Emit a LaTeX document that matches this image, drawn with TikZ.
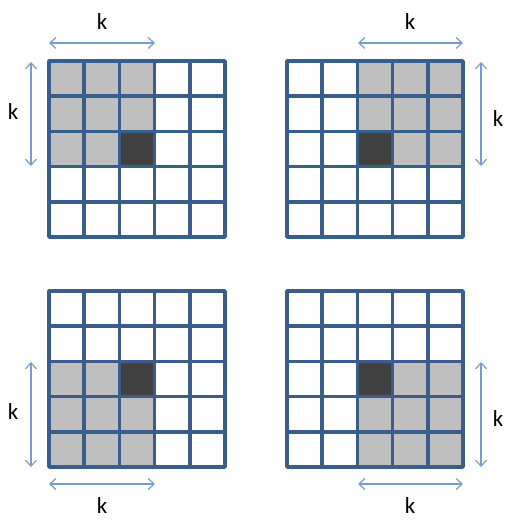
\documentclass[tikz,border=0pt]{standalone}
\usepackage{fontspec}
\setmainfont{Carlito}
\usetikzlibrary{arrows.meta}
\definecolor{gridblue}{RGB}{58,94,140}
\definecolor{arrowblue}{RGB}{120,156,206}
\definecolor{cellgray}{RGB}{191,191,191}
\definecolor{celldark}{RGB}{64,64,64}
\tikzset{
  gridline/.style={draw=gridblue,line width=3.5pt,line join=round,line cap=round},
  dimarrow/.style={draw=arrowblue,line width=1.2pt,{Straight Barb[length=6pt,width=11pt]}-{Straight Barb[length=6pt,width=11pt]}},
  klabel/.style={font=\fontsize{23}{26}\selectfont,inner sep=0pt,text=black}
}
\newcommand\drawgrid[4]{% x0, y0, gray col start, gray row start
  \begin{scope}[shift={(#1,#2)}]
    \foreach \i in {0,1,2}{\foreach \j in {0,1,2}{
      \fill[cellgray] ({(#3+\i)*35.2},{(#4+\j)*35.2}) rectangle ++(35.2,35.2);}}
    \fill[celldark] (70.4,70.4) rectangle ++(35.2,35.2);
    \foreach \t in {1,2,3,4}{
      \draw[gridline] ({\t*35.2},0) -- ({\t*35.2},176);
      \draw[gridline] (0,{\t*35.2}) -- (176,{\t*35.2});}
    \draw[gridline] (0,0) rectangle (176,176);
  \end{scope}}
\begin{document}
\begin{tikzpicture}[x=1pt,y=-1pt]
\useasboundingbox (0,0) rectangle (511,524);
\drawgrid{49}{61}{0}{0}
\drawgrid{287}{61}{2}{0}
\drawgrid{49}{291}{0}{2}
\drawgrid{287}{291}{2}{2}
% top-left
\coordinate (a1) at (49,43); \coordinate (a2) at (155,43);
\draw[dimarrow] (a1) -- (a2);
\node[klabel] (k1) at (102,22) {k};
\coordinate (b1) at (31,62); \coordinate (b2) at (31,166);
\draw[dimarrow] (b1) -- (b2);
\node[klabel] (k2) at (13,112) {k};
% top-right
\coordinate (c1) at (358,43); \coordinate (c2) at (463,43);
\draw[dimarrow] (c1) -- (c2);
\node[klabel] (k3) at (410,22) {k};
\coordinate (d1) at (481,62); \coordinate (d2) at (481,166);
\draw[dimarrow] (d1) -- (d2);
\node[klabel] (k4) at (498,119) {k};
% bottom-left
\coordinate (e1) at (31,362); \coordinate (e2) at (31,467);
\draw[dimarrow] (e1) -- (e2);
\node[klabel] (k5) at (13,412) {k};
\coordinate (f1) at (49,484); \coordinate (f2) at (155,484);
\draw[dimarrow] (f1) -- (f2);
\node[klabel] (k6) at (102,506) {k};
% bottom-right
\coordinate (g1) at (481,362); \coordinate (g2) at (481,467);
\draw[dimarrow] (g1) -- (g2);
\node[klabel] (k7) at (498,419) {k};
\coordinate (h1) at (358,484); \coordinate (h2) at (463,484);
\draw[dimarrow] (h1) -- (h2);
\node[klabel] (k8) at (410,506) {k};
\end{tikzpicture}
\end{document}
